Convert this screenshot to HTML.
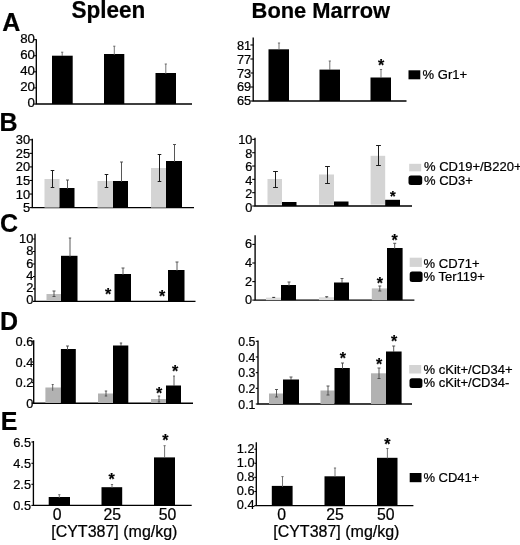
<!DOCTYPE html>
<html><head><meta charset="utf-8"><title>Figure</title>
<style>
html,body{margin:0;padding:0;background:#fff;}
svg{display:block;font-family:"Liberation Sans",Arial,Helvetica,sans-serif;fill:#000;}
text{stroke:#000;stroke-width:0.22px;}
</style></head><body>
<svg width="520" height="545" viewBox="0 0 520 545">
<rect width="520" height="545" fill="#fff"/>
<text transform="translate(71.4,18) scale(0.98,1)" font-size="23" font-weight="bold">Spleen</text>
<text transform="translate(251.6,17.6) scale(0.96,1)" font-size="22.8" font-weight="bold">Bone Marrow</text>
<text x="2.3" y="30.8" font-size="25" font-weight="bold">A</text>
<text x="-0.4" y="130.6" font-size="25" font-weight="bold">B</text>
<text x="0" y="232.4" font-size="25" font-weight="bold">C</text>
<text x="0" y="330" font-size="25" font-weight="bold">D</text>
<text x="0.8" y="430.4" font-size="25" font-weight="bold">E</text>
<path d="M36.3 39.2V104H192" fill="none" stroke="#000" stroke-width="1.35" stroke-linejoin="miter"/>
<path d="M34.099999999999994 39.6H36.3" stroke="#000" stroke-width="1.1"/>
<text transform="translate(35.0,42.7) scale(1.07,1)" text-anchor="end" font-size="12.4">80</text>
<path d="M34.099999999999994 55.7H36.3" stroke="#000" stroke-width="1.1"/>
<text transform="translate(35.0,58.8) scale(1.07,1)" text-anchor="end" font-size="12.4">60</text>
<path d="M34.099999999999994 71.80000000000001H36.3" stroke="#000" stroke-width="1.1"/>
<text transform="translate(35.0,74.9) scale(1.07,1)" text-anchor="end" font-size="12.4">40</text>
<path d="M34.099999999999994 87.9H36.3" stroke="#000" stroke-width="1.1"/>
<text transform="translate(35.0,91.0) scale(1.07,1)" text-anchor="end" font-size="12.4">20</text>
<path d="M34.099999999999994 104.0H36.3" stroke="#000" stroke-width="1.1"/>
<text transform="translate(35.0,107.0) scale(1.07,1)" text-anchor="end" font-size="12.4">0</text>
<rect x="52" y="55.7" width="20.7" height="48.3" fill="#000"/>
<path d="M62.2 52.2V56M61.1 52.2H63.300000000000004" stroke="#5c5c5c" stroke-width="0.85" fill="none"/>
<rect x="104" y="54" width="20.3" height="50.0" fill="#000"/>
<path d="M114.3 46.2V55M113.2 46.2H115.39999999999999" stroke="#5c5c5c" stroke-width="0.85" fill="none"/>
<rect x="155.5" y="73" width="20.5" height="31.0" fill="#000"/>
<path d="M165.8 64V74M164.70000000000002 64H166.9" stroke="#5c5c5c" stroke-width="0.85" fill="none"/>
<path d="M253.2 37.5V101H406.5" fill="none" stroke="#000" stroke-width="1.35" stroke-linejoin="miter"/>
<path d="M250.39999999999998 45.0H253.2" stroke="#000" stroke-width="1.1"/>
<text transform="translate(251.1,49.7) scale(1.04,1)" text-anchor="end" font-size="12.3">81</text>
<path d="M250.39999999999998 59.0H253.2" stroke="#000" stroke-width="1.1"/>
<text transform="translate(251.1,63.6) scale(1.04,1)" text-anchor="end" font-size="12.3">77</text>
<path d="M250.39999999999998 73.0H253.2" stroke="#000" stroke-width="1.1"/>
<text transform="translate(251.1,77.5) scale(1.04,1)" text-anchor="end" font-size="12.3">73</text>
<path d="M250.39999999999998 87.0H253.2" stroke="#000" stroke-width="1.1"/>
<text transform="translate(251.1,91.3) scale(1.04,1)" text-anchor="end" font-size="12.3">69</text>
<path d="M250.39999999999998 101.0H253.2" stroke="#000" stroke-width="1.1"/>
<text transform="translate(251.1,105.2) scale(1.04,1)" text-anchor="end" font-size="12.3">65</text>
<rect x="268.5" y="49.3" width="20.5" height="51.7" fill="#000"/>
<path d="M279 43V50M277.9 43H280.1" stroke="#5c5c5c" stroke-width="0.85" fill="none"/>
<rect x="319.5" y="69.6" width="20.5" height="31.4" fill="#000"/>
<path d="M329.8 61V70M328.7 61H330.90000000000003" stroke="#5c5c5c" stroke-width="0.85" fill="none"/>
<rect x="370.5" y="77.5" width="20.5" height="23.5" fill="#000"/>
<path d="M381 69.5V78M379.9 69.5H382.1" stroke="#5c5c5c" stroke-width="0.85" fill="none"/>
<text x="381" y="70.7" text-anchor="middle" font-size="16" font-weight="bold">*</text>
<rect x="408.5" y="70.3" width="11.8" height="9.0" fill="#000" rx="0"/>
<text x="422.6" y="79.0" font-size="13.0">% Gr1+</text>
<path d="M32.3 138.7V207.6H194" fill="none" stroke="#000" stroke-width="1.35" stroke-linejoin="miter"/>
<path d="M29.499999999999996 139.8H32.3" stroke="#000" stroke-width="1.1"/>
<text transform="translate(30.2,144.2) scale(1.04,1)" text-anchor="end" font-size="12.4">30</text>
<path d="M29.499999999999996 153.36H32.3" stroke="#000" stroke-width="1.1"/>
<text transform="translate(30.2,157.8) scale(1.04,1)" text-anchor="end" font-size="12.4">25</text>
<path d="M29.499999999999996 166.92000000000002H32.3" stroke="#000" stroke-width="1.1"/>
<text transform="translate(30.2,171.4) scale(1.04,1)" text-anchor="end" font-size="12.4">20</text>
<path d="M29.499999999999996 180.48000000000002H32.3" stroke="#000" stroke-width="1.1"/>
<text transform="translate(30.2,184.9) scale(1.04,1)" text-anchor="end" font-size="12.4">15</text>
<path d="M29.499999999999996 194.04H32.3" stroke="#000" stroke-width="1.1"/>
<text transform="translate(30.2,198.5) scale(1.04,1)" text-anchor="end" font-size="12.4">10</text>
<path d="M29.499999999999996 207.6H32.3" stroke="#000" stroke-width="1.1"/>
<text transform="translate(30.2,212.0) scale(1.04,1)" text-anchor="end" font-size="12.4">5</text>
<rect x="44.5" y="179" width="15.0" height="28.6" fill="#d4d4d4"/>
<rect x="59.5" y="188" width="15.0" height="19.6" fill="#000"/>
<path d="M52.5 170.5V187.5M50.7 170.5H54.3M50.7 187.5H54.3" stroke="#1c1c1c" stroke-width="1.0" fill="none"/>
<path d="M67.5 180V189M66.0 180H69.0" stroke="#444" stroke-width="0.9" fill="none"/>
<rect x="97.5" y="181" width="15.5" height="26.6" fill="#d4d4d4"/>
<rect x="113" y="181" width="15.0" height="26.6" fill="#000"/>
<path d="M106.5 174.5V187.5M104.7 174.5H108.3M104.7 187.5H108.3" stroke="#1c1c1c" stroke-width="1.0" fill="none"/>
<path d="M121.5 162V182M120.0 162H123.0" stroke="#444" stroke-width="0.9" fill="none"/>
<rect x="151" y="168" width="15.0" height="39.6" fill="#d4d4d4"/>
<rect x="166" y="161" width="16.0" height="46.6" fill="#000"/>
<path d="M159.5 154.5V181.5M157.7 154.5H161.3M157.7 181.5H161.3" stroke="#1c1c1c" stroke-width="1.0" fill="none"/>
<path d="M174.5 144.5V162M173.0 144.5H176.0" stroke="#444" stroke-width="0.9" fill="none"/>
<path d="M255 137.7V206H412" fill="none" stroke="#000" stroke-width="1.35" stroke-linejoin="miter"/>
<path d="M252.2 139.4H255" stroke="#000" stroke-width="1.1"/>
<text transform="translate(252.4,144.1) scale(1.04,1)" text-anchor="end" font-size="12.3">10</text>
<path d="M252.2 152.72H255" stroke="#000" stroke-width="1.1"/>
<text transform="translate(252.4,157.7) scale(1.04,1)" text-anchor="end" font-size="12.3">8</text>
<path d="M252.2 166.04H255" stroke="#000" stroke-width="1.1"/>
<text transform="translate(252.4,171.3) scale(1.04,1)" text-anchor="end" font-size="12.3">6</text>
<path d="M252.2 179.36H255" stroke="#000" stroke-width="1.1"/>
<text transform="translate(252.4,184.8) scale(1.04,1)" text-anchor="end" font-size="12.3">4</text>
<path d="M252.2 192.68H255" stroke="#000" stroke-width="1.1"/>
<text transform="translate(252.4,198.4) scale(1.04,1)" text-anchor="end" font-size="12.3">2</text>
<path d="M252.2 206.0H255" stroke="#000" stroke-width="1.1"/>
<text transform="translate(252.4,212.0) scale(1.04,1)" text-anchor="end" font-size="12.3">0</text>
<rect x="267.5" y="179" width="14.5" height="25.6" fill="#d4d4d4"/>
<rect x="282" y="202" width="14.5" height="4.0" fill="#000"/>
<path d="M275.5 171.5V187.5M273.1 171.5H277.9M273.1 187.5H277.9" stroke="#1c1c1c" stroke-width="1.0" fill="none"/>
<rect x="319" y="174.5" width="15.0" height="30.1" fill="#d4d4d4"/>
<rect x="334" y="201.5" width="14.5" height="4.5" fill="#000"/>
<path d="M327.5 166.5V183.5M325.1 166.5H329.9M325.1 183.5H329.9" stroke="#1c1c1c" stroke-width="1.0" fill="none"/>
<rect x="370.6" y="155.8" width="14.6" height="48.8" fill="#d4d4d4"/>
<rect x="385.2" y="199.8" width="14.8" height="6.2" fill="#000"/>
<path d="M378.5 145.5V165.5M376.1 145.5H380.9M376.1 165.5H380.9" stroke="#1c1c1c" stroke-width="1.0" fill="none"/>
<text x="392.8" y="200.5" text-anchor="middle" font-size="14.5" font-weight="bold">*</text>
<rect x="409.2" y="163.8" width="12.0" height="7.5" fill="#d4d4d4" rx="0"/>
<text x="424" y="171.4" font-size="13.0">% CD19+/B220+</text>
<rect x="408.5" y="175.4" width="13.7" height="9.6" fill="#000" rx="2.5"/>
<text x="424" y="184.7" font-size="13.0">% CD3+</text>
<path d="M35 233.7V301.4H195.5" fill="none" stroke="#000" stroke-width="1.35" stroke-linejoin="miter"/>
<path d="M33 239.0H35" stroke="#000" stroke-width="1.1"/>
<text transform="translate(33.4,243.1) scale(1.04,1)" text-anchor="end" font-size="12.4">10</text>
<path d="M33 251.48H35" stroke="#000" stroke-width="1.1"/>
<text transform="translate(33.4,255.4) scale(1.04,1)" text-anchor="end" font-size="12.4">8</text>
<path d="M33 263.96H35" stroke="#000" stroke-width="1.1"/>
<text transform="translate(33.4,267.6) scale(1.04,1)" text-anchor="end" font-size="12.4">6</text>
<path d="M33 276.44H35" stroke="#000" stroke-width="1.1"/>
<text transform="translate(33.4,279.9) scale(1.04,1)" text-anchor="end" font-size="12.4">4</text>
<path d="M33 288.91999999999996H35" stroke="#000" stroke-width="1.1"/>
<text transform="translate(33.4,292.1) scale(1.04,1)" text-anchor="end" font-size="12.4">2</text>
<path d="M33 301.4H35" stroke="#000" stroke-width="1.1"/>
<text transform="translate(33.4,304.3) scale(1.04,1)" text-anchor="end" font-size="12.4">0</text>
<rect x="46.5" y="294" width="14.5" height="7.0" fill="#bebebe"/>
<rect x="61" y="255.8" width="16.5" height="45.2" fill="#000"/>
<path d="M54 291V296.5M52.5 291H55.5M52.5 296.5H55.5" stroke="#484848" stroke-width="0.9" fill="none"/>
<path d="M70 238V257M68.8 238H71.2" stroke="#484848" stroke-width="0.9" fill="none"/>
<rect x="99" y="300" width="15.5" height="1.0" fill="#bebebe"/>
<rect x="114.5" y="274" width="16.5" height="27.0" fill="#000"/>
<path d="M123 268V275M121.5 268H124.5" stroke="#484848" stroke-width="0.9" fill="none"/>
<text x="108" y="300.2" text-anchor="middle" font-size="16" font-weight="bold">*</text>
<rect x="152" y="300.2" width="16.0" height="0.8" fill="#bebebe"/>
<rect x="168" y="270" width="16.5" height="31.0" fill="#000"/>
<path d="M177 262V271M175.5 262H178.5" stroke="#484848" stroke-width="0.9" fill="none"/>
<text x="162" y="301.7" text-anchor="middle" font-size="16" font-weight="bold">*</text>
<path d="M255.1 235.2V300.1H414.4" fill="none" stroke="#000" stroke-width="1.35" stroke-linejoin="miter"/>
<path d="M252.29999999999998 244.4H255.1" stroke="#000" stroke-width="1.1"/>
<text transform="translate(252.2,248.4) scale(1.04,1)" text-anchor="end" font-size="12.3">6</text>
<path d="M252.29999999999998 263H255.1" stroke="#000" stroke-width="1.1"/>
<text transform="translate(252.2,267.0) scale(1.04,1)" text-anchor="end" font-size="12.3">4</text>
<path d="M252.29999999999998 281.6H255.1" stroke="#000" stroke-width="1.1"/>
<text transform="translate(252.2,285.6) scale(1.04,1)" text-anchor="end" font-size="12.3">2</text>
<path d="M252.29999999999998 300.1H255.1" stroke="#000" stroke-width="1.1"/>
<text transform="translate(252.2,304.2) scale(1.04,1)" text-anchor="end" font-size="12.3">0</text>
<rect x="266" y="297.6" width="15.0" height="2.5" fill="#dcdcdc"/>
<rect x="281" y="285" width="15.0" height="15.1" fill="#000"/>
<path d="M273.7 297.4V298.0M272.2 297.4H275.2" stroke="#222" stroke-width="0.9" fill="none"/>
<path d="M289 282V286M287.5 282H290.5" stroke="#484848" stroke-width="0.9" fill="none"/>
<rect x="319" y="297.2" width="15.0" height="2.9" fill="#dcdcdc"/>
<rect x="334" y="282.5" width="15.0" height="17.6" fill="#000"/>
<path d="M326.7 296.8V297.6M325.2 296.8H328.2" stroke="#222" stroke-width="0.9" fill="none"/>
<path d="M342 278.5V283M340.5 278.5H343.5" stroke="#484848" stroke-width="0.9" fill="none"/>
<rect x="371.8" y="288.4" width="15.2" height="11.7" fill="#bebebe"/>
<rect x="387" y="248" width="15.6" height="52.1" fill="#000"/>
<path d="M379.8 286V291M378.3 286H381.3M378.3 291H381.3" stroke="#484848" stroke-width="0.9" fill="none"/>
<path d="M394.7 243.3V249M393.2 243.3H396.2" stroke="#484848" stroke-width="0.9" fill="none"/>
<text x="379.8" y="289.2" text-anchor="middle" font-size="16" font-weight="bold">*</text>
<text x="394.7" y="245.5" text-anchor="middle" font-size="16" font-weight="bold">*</text>
<rect x="409.7" y="257.7" width="12.2" height="9.2" fill="#d4d4d4" rx="0"/>
<text x="423.6" y="267.6" font-size="13.0">% CD71+</text>
<rect x="409.7" y="271.5" width="12.9" height="10.5" fill="#000" rx="2.5"/>
<text x="423.6" y="280.9" font-size="13.0">% Ter119+</text>
<path d="M33.7 340.3V403.2H193" fill="none" stroke="#000" stroke-width="1.35" stroke-linejoin="miter"/>
<path d="M31.700000000000003 341.2H33.7" stroke="#000" stroke-width="1.1"/>
<text transform="translate(33.3,345.6) scale(1.04,1)" text-anchor="end" font-size="12.3">0.6</text>
<path d="M31.700000000000003 362H33.7" stroke="#000" stroke-width="1.1"/>
<text transform="translate(33.3,367.0) scale(1.04,1)" text-anchor="end" font-size="12.3">0.4</text>
<path d="M31.700000000000003 382.6H33.7" stroke="#000" stroke-width="1.1"/>
<text transform="translate(33.3,387.2) scale(1.04,1)" text-anchor="end" font-size="12.3">0.2</text>
<path d="M31.700000000000003 403.2H33.7" stroke="#000" stroke-width="1.1"/>
<text transform="translate(33.3,407.6) scale(1.04,1)" text-anchor="end" font-size="12.3">0</text>
<rect x="45.4" y="387.5" width="15.5" height="15.5" fill="#b2b2b2"/>
<rect x="60.9" y="349" width="14.9" height="54.0" fill="#000"/>
<path d="M52.7 384.5V390.8M51.7 384.5H53.7" stroke="#555" stroke-width="0.9" fill="none"/>
<path d="M67.5 346V350M66.0 346H69.0" stroke="#484848" stroke-width="0.9" fill="none"/>
<rect x="98" y="393.5" width="15.0" height="9.5" fill="#b2b2b2"/>
<rect x="113" y="345.5" width="15.3" height="57.5" fill="#000"/>
<path d="M106 391V396M104.8 391H107.2M104.8 396H107.2" stroke="#484848" stroke-width="0.9" fill="none"/>
<path d="M121 343V346M119.8 343H122.2" stroke="#484848" stroke-width="0.9" fill="none"/>
<rect x="151" y="399" width="15.0" height="4.0" fill="#b2b2b2"/>
<rect x="166" y="385.5" width="15.0" height="17.5" fill="#000"/>
<path d="M159 396V402M157.8 396H160.2M157.8 402H160.2" stroke="#484848" stroke-width="0.9" fill="none"/>
<path d="M174 376V386M173.2 376H174.8" stroke="#484848" stroke-width="0.9" fill="none"/>
<text x="159" y="398.7" text-anchor="middle" font-size="16" font-weight="bold">*</text>
<text x="175" y="376.7" text-anchor="middle" font-size="16" font-weight="bold">*</text>
<path d="M258 340.59999999999997V404H412" fill="none" stroke="#000" stroke-width="1.35" stroke-linejoin="miter"/>
<path d="M255.8 341.3H258" stroke="#000" stroke-width="1.1"/>
<text transform="translate(255.4,345.6) scale(1.0,1)" text-anchor="end" font-size="12.3">0.5</text>
<path d="M255.8 356.975H258" stroke="#000" stroke-width="1.1"/>
<text transform="translate(255.4,361.5) scale(1.0,1)" text-anchor="end" font-size="12.3">0.4</text>
<path d="M255.8 372.65H258" stroke="#000" stroke-width="1.1"/>
<text transform="translate(255.4,377.3) scale(1.0,1)" text-anchor="end" font-size="12.3">0.3</text>
<path d="M255.8 388.325H258" stroke="#000" stroke-width="1.1"/>
<text transform="translate(255.4,393.2) scale(1.0,1)" text-anchor="end" font-size="12.3">0.2</text>
<path d="M255.8 404.0H258" stroke="#000" stroke-width="1.1"/>
<text transform="translate(255.4,409.0) scale(1.0,1)" text-anchor="end" font-size="12.3">0.1</text>
<rect x="269" y="393.5" width="14.0" height="10.5" fill="#b2b2b2"/>
<rect x="283" y="379.5" width="16.0" height="24.5" fill="#000"/>
<path d="M276.5 389.5V397M275.0 389.5H278.0M275.0 397H278.0" stroke="#484848" stroke-width="0.9" fill="none"/>
<path d="M291 377V380M289.5 377H292.5" stroke="#484848" stroke-width="0.9" fill="none"/>
<rect x="320.5" y="390.5" width="14.0" height="13.5" fill="#b2b2b2"/>
<rect x="334.5" y="368" width="15.3" height="36.0" fill="#000"/>
<path d="M328 386V395M326.5 386H329.5M326.5 395H329.5" stroke="#484848" stroke-width="0.9" fill="none"/>
<path d="M342.5 363V369M341.0 363H344.0" stroke="#484848" stroke-width="0.9" fill="none"/>
<text x="342.8" y="364.0" text-anchor="middle" font-size="16" font-weight="bold">*</text>
<rect x="371" y="373.3" width="15.0" height="30.7" fill="#b2b2b2"/>
<rect x="386" y="351.5" width="15.6" height="52.5" fill="#000"/>
<path d="M379 368V378.5M377.5 368H380.5M377.5 378.5H380.5" stroke="#484848" stroke-width="0.9" fill="none"/>
<path d="M393.7 346V352M392.2 346H395.2" stroke="#484848" stroke-width="0.9" fill="none"/>
<text x="379" y="369.7" text-anchor="middle" font-size="16" font-weight="bold">*</text>
<text x="394" y="347.1" text-anchor="middle" font-size="16" font-weight="bold">*</text>
<rect x="409.2" y="365" width="12.0" height="8.5" fill="#d4d4d4" rx="0"/>
<text x="423.6" y="373.6" font-size="13.0">% cKit+/CD34+</text>
<rect x="409.5" y="378.2" width="12.9" height="9.8" fill="#000" rx="2.5"/>
<text x="423.6" y="387.0" font-size="13.0">% cKit+/CD34-</text>
<path d="M33.4 440.9V505.4H191.7" fill="none" stroke="#000" stroke-width="1.35" stroke-linejoin="miter"/>
<path d="M31.4 442H33.4" stroke="#000" stroke-width="1.1"/>
<text transform="translate(31.0,446.6) scale(1.04,1)" text-anchor="end" font-size="12.3">6.5</text>
<path d="M31.4 463.3H33.4" stroke="#000" stroke-width="1.1"/>
<text transform="translate(31.0,467.6) scale(1.04,1)" text-anchor="end" font-size="12.3">4.5</text>
<path d="M31.4 484.3H33.4" stroke="#000" stroke-width="1.1"/>
<text transform="translate(31.0,488.5) scale(1.04,1)" text-anchor="end" font-size="12.3">2.5</text>
<path d="M31.4 505.4H33.4" stroke="#000" stroke-width="1.1"/>
<text transform="translate(31.0,509.5) scale(1.04,1)" text-anchor="end" font-size="12.3">0.5</text>
<rect x="48.7" y="497" width="21.3" height="8.4" fill="#000"/>
<path d="M59.3 494.7V498M58.199999999999996 494.7H60.4" stroke="#5c5c5c" stroke-width="0.85" fill="none"/>
<rect x="101.5" y="487.2" width="20.7" height="18.2" fill="#000"/>
<path d="M112 484.5V488M110.9 484.5H113.1" stroke="#5c5c5c" stroke-width="0.85" fill="none"/>
<text x="111.7" y="485.3" text-anchor="middle" font-size="16" font-weight="bold">*</text>
<rect x="154" y="457.4" width="21.0" height="48.0" fill="#000"/>
<path d="M164.6 445.7V458M163.5 445.7H165.7" stroke="#5c5c5c" stroke-width="0.85" fill="none"/>
<text x="165.4" y="445.5" text-anchor="middle" font-size="16" font-weight="bold">*</text>
<path d="M256.3 442.2V505.6H413.4" fill="none" stroke="#000" stroke-width="1.35" stroke-linejoin="miter"/>
<path d="M254.3 449.2H256.3" stroke="#000" stroke-width="1.1"/>
<text transform="translate(254.5,453.1) scale(1.04,1)" text-anchor="end" font-size="12.3">1.2</text>
<path d="M254.3 463.3H256.3" stroke="#000" stroke-width="1.1"/>
<text transform="translate(254.5,467.1) scale(1.04,1)" text-anchor="end" font-size="12.3">1.0</text>
<path d="M254.3 477.4H256.3" stroke="#000" stroke-width="1.1"/>
<text transform="translate(254.5,481.2) scale(1.04,1)" text-anchor="end" font-size="12.3">0.8</text>
<path d="M254.3 491.5H256.3" stroke="#000" stroke-width="1.1"/>
<text transform="translate(254.5,495.2) scale(1.04,1)" text-anchor="end" font-size="12.3">0.6</text>
<path d="M254.3 505.6H256.3" stroke="#000" stroke-width="1.1"/>
<text transform="translate(254.5,509.2) scale(1.04,1)" text-anchor="end" font-size="12.3">0.4</text>
<rect x="271.8" y="485.9" width="20.8" height="19.9" fill="#000"/>
<path d="M282.5 476.6V487M281.4 476.6H283.6" stroke="#5c5c5c" stroke-width="0.85" fill="none"/>
<rect x="324.5" y="476.3" width="20.5" height="29.5" fill="#000"/>
<path d="M335 468V477M333.9 468H336.1" stroke="#5c5c5c" stroke-width="0.85" fill="none"/>
<rect x="377" y="457.8" width="20.5" height="48.0" fill="#000"/>
<path d="M387.4 448.5V458.5M386.29999999999995 448.5H388.5" stroke="#5c5c5c" stroke-width="0.85" fill="none"/>
<text x="387.4" y="449.9" text-anchor="middle" font-size="16" font-weight="bold">*</text>
<rect x="409.7" y="473" width="11.8" height="9.2" fill="#000" rx="0"/>
<text x="423.4" y="481.6" font-size="13.0">% CD41+</text>
<text x="57.2" y="520.2" text-anchor="middle" font-size="15.8">0</text>
<text x="112.3" y="520.2" text-anchor="middle" font-size="15.8">25</text>
<text x="167.5" y="520.2" text-anchor="middle" font-size="15.8">50</text>
<text x="281.7" y="520.2" text-anchor="middle" font-size="15.8">0</text>
<text x="335" y="520.2" text-anchor="middle" font-size="15.8">25</text>
<text x="385.7" y="520.2" text-anchor="middle" font-size="15.8">50</text>
<text x="51.2" y="537.4" font-size="16">[CYT387] (mg/kg)</text>
<text x="273.2" y="537.4" font-size="16">[CYT387] (mg/kg)</text>
</svg>
</body></html>
